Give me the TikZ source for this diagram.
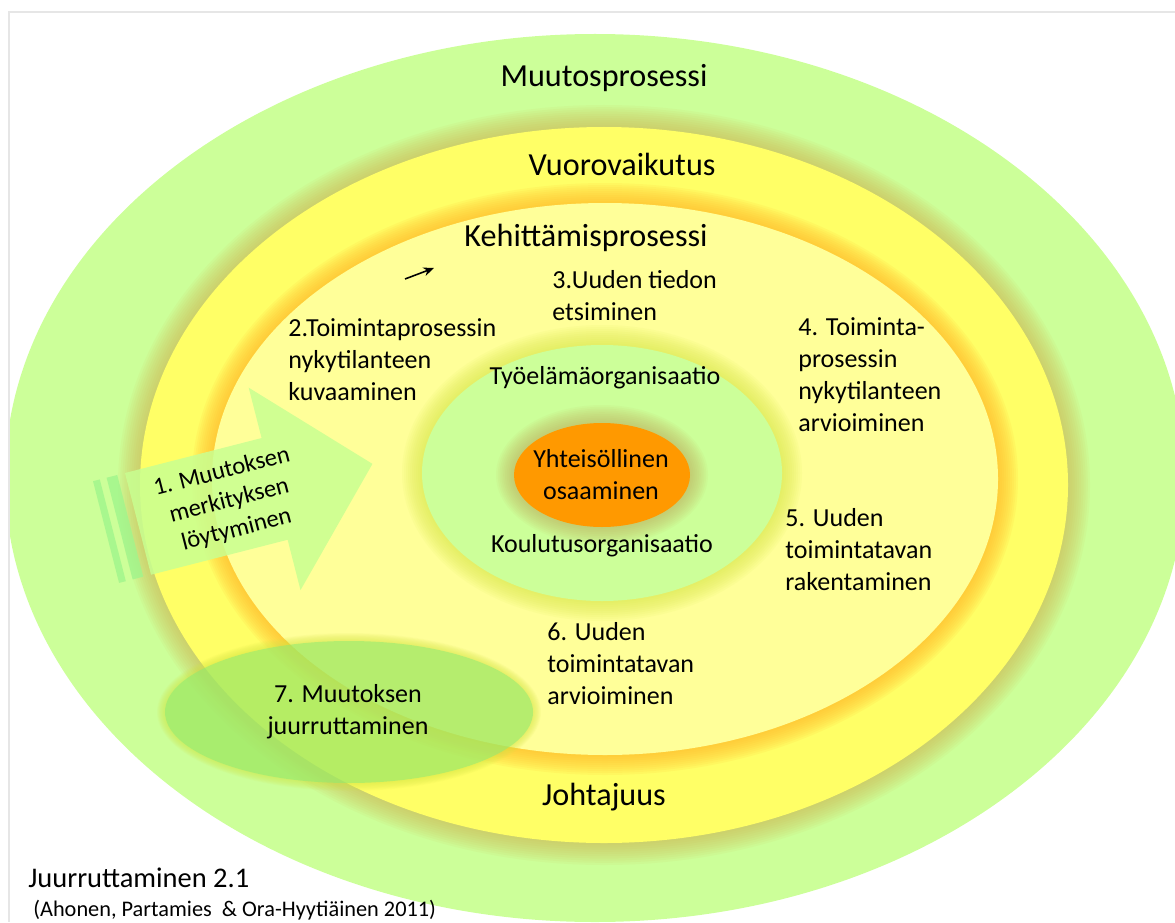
\documentclass[tikz,border=0pt]{standalone}
\usepackage{fontspec}
\setmainfont{Carlito}
\usetikzlibrary{arrows.meta}
\definecolor{outergreen}{RGB}{204,255,153}
\definecolor{ringyellow}{RGB}{255,255,102}
\definecolor{lightyellow}{RGB}{255,255,153}
\definecolor{innergreen}{RGB}{204,255,153}
\definecolor{coreorange}{RGB}{255,153,0}
\definecolor{glowbrown}{RGB}{205,180,80}
\definecolor{gloworange}{RGB}{255,185,40}
\definecolor{glowlime}{RGB}{215,232,70}
\definecolor{glowolive}{RGB}{195,170,90}
\definecolor{rootgreen}{RGB}{140,235,115}
\definecolor{arrowgreen}{RGB}{200,255,145}
\definecolor{stripegreen}{RGB}{160,245,140}
\definecolor{framegray}{RGB}{230,230,230}
\newcommand\glowellipse[6]{%
  \foreach \k in {1,...,10}{%
    \fill[#5, opacity=#6] (#1) ellipse [x radius={#2+#4*\k/10}, y radius={#3+#4*\k/10}];
  }%
}
\begin{document}
\begin{tikzpicture}[x=0.02cm, y=-0.02cm,
  bodytext/.style={font=\fontsize{14.8}{18.2}\selectfont, inner sep=0pt, align=left, anchor=west},
  titletext/.style={font=\fontsize{18.3}{22}\selectfont, inner sep=0pt},
  centretext/.style={font=\fontsize{14.8}{18.2}\selectfont, inner sep=0pt, align=center}]
\useasboundingbox (0,0) rectangle (1175,922);
\begin{scope}
\clip (10,13) rectangle (1175,922);
\fill[outergreen] (595,478) ellipse [x radius=590, y radius=444];
\glowellipse{604,485}{464}{358}{22}{glowbrown}{0.08}
\fill[ringyellow] (604,485) ellipse [x radius=464, y radius=358];
\glowellipse{605,479}{393}{276}{20}{gloworange}{0.1}
\fill[lightyellow] (605,479) ellipse [x radius=393, y radius=276];
\glowellipse{602,473}{180}{128}{20}{glowlime}{0.08}
\fill[innergreen] (602,473) ellipse [x radius=180, y radius=128];
\glowellipse{602,475}{88}{52}{18}{glowolive}{0.07}
\fill[coreorange] (602,475) ellipse [x radius=88, y radius=52];
\glowellipse{349,712}{184}{71}{8}{glowlime}{0.07}
\fill[rootgreen, opacity=0.55] (349,712) ellipse [x radius=184, y radius=71];
\begin{scope}[shift={(125,473)}, x={(0.01938cm,0.00496cm)}, y={(0.00496cm,-0.01938cm)}]
  \fill[stripegreen, opacity=0.8] (-33,0) -- (-26,0) -- (-26,105) -- (-33,105) -- cycle;
  \fill[stripegreen, opacity=0.8] (-19,0) -- (-8,0) -- (-8,105) -- (-19,105) -- cycle;
  \fill[arrowgreen, opacity=0.85] (0,0) -- (141,0) -- (141,-52) -- (242,52.5) -- (141,157) -- (141,105) -- (0,105) -- cycle;
  \node[rotate=14.4, align=center, inner sep=0pt, font=\fontsize{14}{17}\selectfont] (step1) at (94,53) {1. Muutoksen\\merkityksen\\löytyminen};
\end{scope}
\end{scope}
\draw[framegray, line width=1.1pt] (9,922) -- (9,12) -- (1175,12);
\node[titletext] (muutos) at (604,78) {Muutosprosessi};
\node[titletext] (vuoro) at (622,164) {Vuorovaikutus};
\node[titletext] (kehit) at (586,238) {Kehittämisprosessi};
\node[bodytext] (step3) at (552,296) {3.Uuden tiedon\\etsiminen};
\node[bodytext] (step2) at (288,360) {2.Toimintaprosessin\\nykytilanteen\\kuvaaminen};
\node[bodytext] (step4) at (798,375) {4. Toiminta-\\prosessin\\nykytilanteen\\arvioiminen};
\node[bodytext] (step5) at (785,550) {5. Uuden\\toimintatavan\\rakentaminen};
\node[bodytext] (step6) at (547,664) {6. Uuden\\toimintatavan\\arvioiminen};
\node[centretext] (step7) at (348,712) {7. Muutoksen\\juurruttaminen};
\node[centretext] (tyo) at (605,378) {Työelämäorganisaatio};
\node[centretext] (yht) at (601,475) {Yhteisöllinen\\osaaminen};
\node[centretext] (koulu) at (602,546) {Koulutusorganisaatio};
\node[titletext] (johto) at (604,797) {Johtajuus};
\node[anchor=west, inner sep=0pt, font=\fontsize{16.2}{19}\selectfont] (juur) at (28,878) {Juurruttaminen 2.1};
\node[anchor=west, inner sep=0pt, font=\fontsize{12.7}{15}\selectfont] (ref) at (33,910) {(Ahonen, Partamies\ \ \& Ora-Hyytiäinen 2011)};
\coordinate (smalltail) at (405,279);
\coordinate (smallhead) at (434,268);
\draw[-{Stealth[length=6pt,width=5pt]}, line width=0.9pt] (smalltail) -- (smallhead);
\end{tikzpicture}
\end{document}
